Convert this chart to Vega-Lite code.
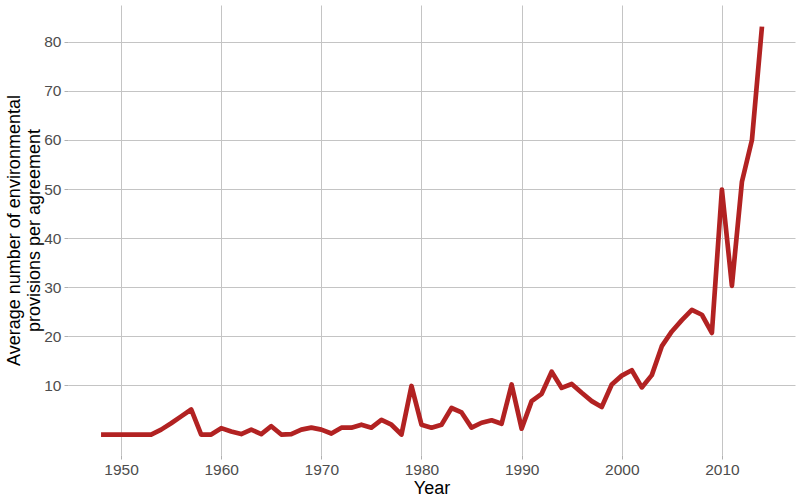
{
  "$schema": "https://vega.github.io/schema/vega-lite/v6.json",
  "width": 727,
  "height": 450,
  "autosize": "none",
  "padding": {"left": 68, "top": 5, "right": 5, "bottom": 45},
  "background": "white",
  "config": {
    "view": {"stroke": null},
    "font": "Liberation Sans",
    "axis": {
      "gridColor": "#c4c4c4",
      "gridWidth": 1,
      "domain": false,
      "tickColor": "#b0b0b0",
      "tickSize": 4,
      "labelFont": "Liberation Sans",
      "labelFontSize": 15.5,
      "labelColor": "#4d4d4d",
      "titleFont": "Liberation Sans",
      "titleFontSize": 18,
      "titleFontWeight": "normal",
      "titleColor": "#000000"
    }
  },
  "data": {
    "values": [
      {"year": 1948, "avg": 0},
      {"year": 1949, "avg": 0},
      {"year": 1950, "avg": 0},
      {"year": 1951, "avg": 0},
      {"year": 1952, "avg": 0},
      {"year": 1953, "avg": 0},
      {"year": 1954, "avg": 1.0},
      {"year": 1955, "avg": 2.3},
      {"year": 1956, "avg": 3.7},
      {"year": 1957, "avg": 5.1},
      {"year": 1958, "avg": 0},
      {"year": 1959, "avg": 0},
      {"year": 1960, "avg": 1.3},
      {"year": 1961, "avg": 0.6},
      {"year": 1962, "avg": 0.1},
      {"year": 1963, "avg": 1.0},
      {"year": 1964, "avg": 0.1},
      {"year": 1965, "avg": 1.7},
      {"year": 1966, "avg": 0},
      {"year": 1967, "avg": 0.1},
      {"year": 1968, "avg": 1.0},
      {"year": 1969, "avg": 1.4},
      {"year": 1970, "avg": 1.0},
      {"year": 1971, "avg": 0.2},
      {"year": 1972, "avg": 1.4},
      {"year": 1973, "avg": 1.4},
      {"year": 1974, "avg": 2.0},
      {"year": 1975, "avg": 1.4},
      {"year": 1976, "avg": 3.0},
      {"year": 1977, "avg": 2.0},
      {"year": 1978, "avg": 0},
      {"year": 1979, "avg": 9.9},
      {"year": 1980, "avg": 2.0},
      {"year": 1981, "avg": 1.4},
      {"year": 1982, "avg": 2.0},
      {"year": 1983, "avg": 5.4},
      {"year": 1984, "avg": 4.5},
      {"year": 1985, "avg": 1.4},
      {"year": 1986, "avg": 2.4},
      {"year": 1987, "avg": 2.9},
      {"year": 1988, "avg": 2.2},
      {"year": 1989, "avg": 10.2},
      {"year": 1990, "avg": 1.2},
      {"year": 1991, "avg": 6.8},
      {"year": 1992, "avg": 8.3},
      {"year": 1993, "avg": 12.8},
      {"year": 1994, "avg": 9.5},
      {"year": 1995, "avg": 10.3},
      {"year": 1996, "avg": 8.5},
      {"year": 1997, "avg": 6.8},
      {"year": 1998, "avg": 5.6},
      {"year": 1999, "avg": 10.2},
      {"year": 2000, "avg": 12.0},
      {"year": 2001, "avg": 13.1},
      {"year": 2002, "avg": 9.6},
      {"year": 2003, "avg": 12.1},
      {"year": 2004, "avg": 18.0},
      {"year": 2005, "avg": 21.0},
      {"year": 2006, "avg": 23.3},
      {"year": 2007, "avg": 25.4},
      {"year": 2008, "avg": 24.4},
      {"year": 2009, "avg": 20.7},
      {"year": 2010, "avg": 49.9},
      {"year": 2011, "avg": 30.3},
      {"year": 2012, "avg": 51.5},
      {"year": 2013, "avg": 60.0},
      {"year": 2014, "avg": 83.1}
    ]
  },
  "mark": {"type": "line", "color": "#B22222", "strokeWidth": 4.7, "strokeJoin": "round"},
  "encoding": {
    "x": {
      "field": "year",
      "type": "quantitative",
      "scale": {"domain": [1944.7, 2017.3], "nice": false, "zero": false},
      "axis": {
        "title": "Year",
        "values": [1950, 1960, 1970, 1980, 1990, 2000, 2010],
        "format": "d",
        "labelPadding": 3,
        "titlePadding": 2
      }
    },
    "y": {
      "field": "avg",
      "type": "quantitative",
      "scale": {"domain": [-4.17, 87.5], "nice": false, "zero": false},
      "axis": {
        "title": ["Average number of environmental", "provisions per agreement"],
        "values": [10, 20, 30, 40, 50, 60, 70, 80],
        "labelPadding": 3,
        "titlePadding": 0,
        "titleLineHeight": 20
      }
    }
  }
}
